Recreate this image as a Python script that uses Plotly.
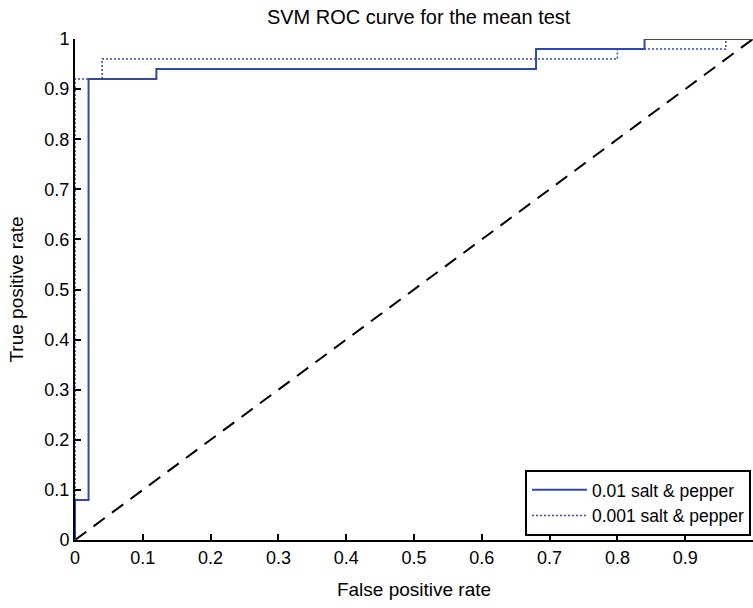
import plotly.graph_objects as go

# Series 1: 0.01 salt & pepper (step ROC)
fpr_01 = [0, 0, 0.02, 0.02, 0.12, 0.12, 0.68, 0.68, 0.84, 0.84, 1.0]
tpr_01 = [0, 0.08, 0.08, 0.92, 0.92, 0.94, 0.94, 0.98, 0.98, 1.0, 1.0]

# Series 2: 0.001 salt & pepper
fpr_001 = [0, 0, 0.04, 0.04, 0.80, 0.80, 0.96, 0.96, 1.0]
tpr_001 = [0, 0.92, 0.92, 0.96, 0.96, 0.98, 0.98, 1.0, 1.0]

# Chance diagonal
diag_x = [0, 1]
diag_y = [0, 1]

ticks = [0, 0.1, 0.2, 0.3, 0.4, 0.5, 0.6, 0.7, 0.8, 0.9, 1]
tick_text = ["0", "0.1", "0.2", "0.3", "0.4", "0.5", "0.6", "0.7", "0.8", "0.9", "1"]

blue = "rgb(48,72,168)"
font = "Liberation Sans, Arial, sans-serif"

fig = go.Figure()
fig.add_trace(go.Scatter(x=diag_x, y=diag_y, mode="lines",
                         line=dict(color="black", width=2, dash="14px,9px"),
                         showlegend=False, hoverinfo="skip"))
fig.add_trace(go.Scatter(x=fpr_001, y=tpr_001, mode="lines",
                         name="0.001 salt & pepper",
                         line=dict(color=blue, width=1.5, dash="2px,2px")))
fig.add_trace(go.Scatter(x=fpr_01, y=tpr_01, mode="lines",
                         name="0.01 salt & pepper",
                         line=dict(color=blue, width=2)))

axis_common = dict(
    showgrid=False, zeroline=False, showline=True, linecolor="black", linewidth=2,
    ticks="inside", ticklen=6, tickwidth=2, tickcolor="black",
    tickvals=ticks, ticktext=tick_text, mirror=False, automargin=False,
    tickfont=dict(family=font, size=18, color="black"),
)

fig.update_layout(
    width=753, height=608,
    paper_bgcolor="white", plot_bgcolor="white",
    margin=dict(l=75, r=0, t=39, b=68, autoexpand=False),
    font=dict(family=font, color="black"),
    title=dict(text="SVM ROC curve for the mean test", x=0.556, xanchor="center",
               y=0.972, yanchor="middle", font=dict(family=font, size=20, color="black")),
    xaxis=dict(range=[0, 1], title=dict(text="False positive rate", font=dict(size=19), standoff=16),
               **axis_common),
    yaxis=dict(range=[0, 1], title=dict(text="True positive rate", font=dict(size=19), standoff=16),
               **axis_common),
    legend=dict(x=0.997, y=0.008, xanchor="right", yanchor="bottom", traceorder="reversed",
                bgcolor="white", bordercolor="black", borderwidth=2,
                font=dict(family=font, size=17.5, color="black"),
                tracegroupgap=0, itemwidth=55),
)

fig.write_html("out.html", config={"displayModeBar": False},
               post_script="document.body.style.margin='0';document.body.style.overflow='hidden';")
